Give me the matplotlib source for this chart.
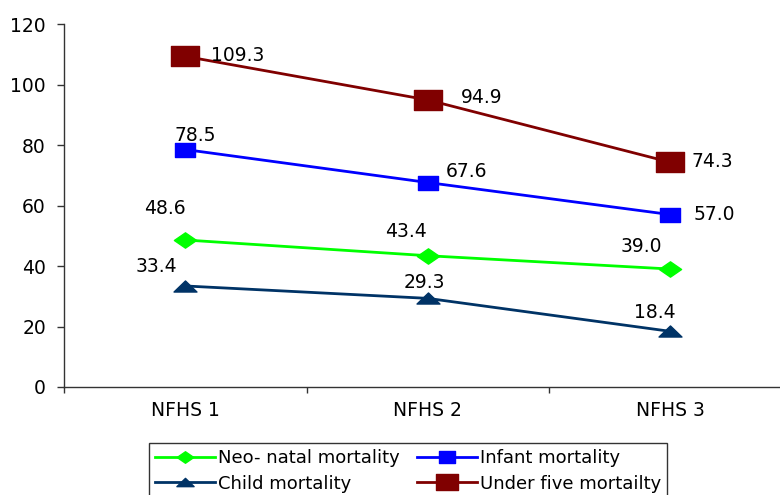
import matplotlib
matplotlib.use("Agg")
import matplotlib.pyplot as plt
from matplotlib.path import Path
from matplotlib.ticker import FixedLocator

plt.rcParams['font.family'] = ['DejaVu Sans']

surveys = ["NFHS 1", "NFHS 2", "NFHS 3"]
neo_natal = [48.6, 43.4, 39.0]
infant = [78.5, 67.6, 57.0]
child = [33.4, 29.3, 18.4]
under_five = [109.3, 94.9, 74.3]
y_ticks = [0, 20, 40, 60, 80, 100, 120]

# Wide markers (the chart is drawn with a horizontally stretched look)
def box_marker(rx):
    return Path([(-rx, -1), (rx, -1), (rx, 1), (-rx, 1), (-rx, -1)],
                [Path.MOVETO, Path.LINETO, Path.LINETO, Path.LINETO, Path.CLOSEPOLY])

def diamond_marker(rx):
    return Path([(0, -1), (rx, 0), (0, 1), (-rx, 0), (0, -1)],
                [Path.MOVETO, Path.LINETO, Path.LINETO, Path.LINETO, Path.CLOSEPOLY])

def triangle_marker(rx):
    return Path([(-rx, -0.7), (rx, -0.7), (0, 0.7), (-rx, -0.7)],
                [Path.MOVETO, Path.LINETO, Path.LINETO, Path.CLOSEPOLY])

series = [
    ("Neo- natal mortality", neo_natal, "#00FF00", diamond_marker(1.45), 16,
     [(-20, 31), (-22, 24), (-29, 23)]),
    ("Infant mortality", infant, "#0000FF", box_marker(1.35), 14.5,
     [(10, 14), (39, 11), (44, 0)]),
    ("Child mortality", child, "#003366", triangle_marker(1.45), 16.5,
     [(-29, 19), (-3, 16), (-15, 19)]),
    ("Under five mortailty", under_five, "#800000", box_marker(1.4), 20.5,
     [(52, 1), (54, 2), (42, 1)]),
]

fig = plt.figure(figsize=(7.8, 4.95), dpi=100)
ax = fig.add_axes([64 / 780, 108 / 495, 727.5 / 780, 363 / 495])

x = list(range(len(surveys)))
handles = {}
for name, vals, color, marker, ms, offsets in series:
    ln, = ax.plot(x, vals, color=color, lw=2.0, marker=marker, markersize=ms,
                  markerfacecolor=color, markeredgecolor=color, label=name,
                  clip_on=False, zorder=3)
    handles[name] = ln
    for xi, v, (dx, dy) in zip(x, vals, offsets):
        ax.annotate(f"{v:.1f}", (xi, v), xytext=(dx, dy),
                    textcoords="offset pixels", ha="center", va="center",
                    fontsize=13.5, color="black", zorder=4)

ax.set_xlim(-0.5, 2.5)
ax.set_ylim(0, 120)
ax.set_yticks(y_ticks)
ax.set_xticks(x)
ax.set_xticklabels(surveys)
ax.xaxis.set_minor_locator(FixedLocator([-0.5, 0.5, 1.5, 2.5]))
ax.tick_params(axis="x", which="major", length=0, pad=10, labelsize=13.5)
ax.tick_params(axis="x", which="minor", length=4, direction="out", width=1, color="#333333")
ax.tick_params(axis="y", length=5, direction="out", width=1, color="#333333",
               pad=8, labelsize=13.5)
for side in ("top", "right"):
    ax.spines[side].set_visible(False)
for side in ("left", "bottom"):
    ax.spines[side].set_color("#333333")
    ax.spines[side].set_linewidth(1.0)

order = ["Neo- natal mortality", "Infant mortality", "Child mortality", "Under five mortailty"]
# ncol=2 fills column-wise, so interleave to read row by row
leg_order = [order[0], order[2], order[1], order[3]]
leg = fig.legend([handles[n] for n in leg_order], leg_order, ncol=2,
                 loc="upper left", bbox_to_anchor=(149 / 780, 1 - 443 / 495),
                 frameon=True, fancybox=False, edgecolor="black", fontsize=13,
                 handlelength=3.3, handletextpad=0.15, columnspacing=1.0,
                 borderpad=0.35, labelspacing=0.4, borderaxespad=0)
leg.get_frame().set_linewidth(1.0)
for h in leg.legend_handles:
    h.set_markersize(h.get_markersize() * 0.75)

fig.savefig("out.png", dpi=100)
